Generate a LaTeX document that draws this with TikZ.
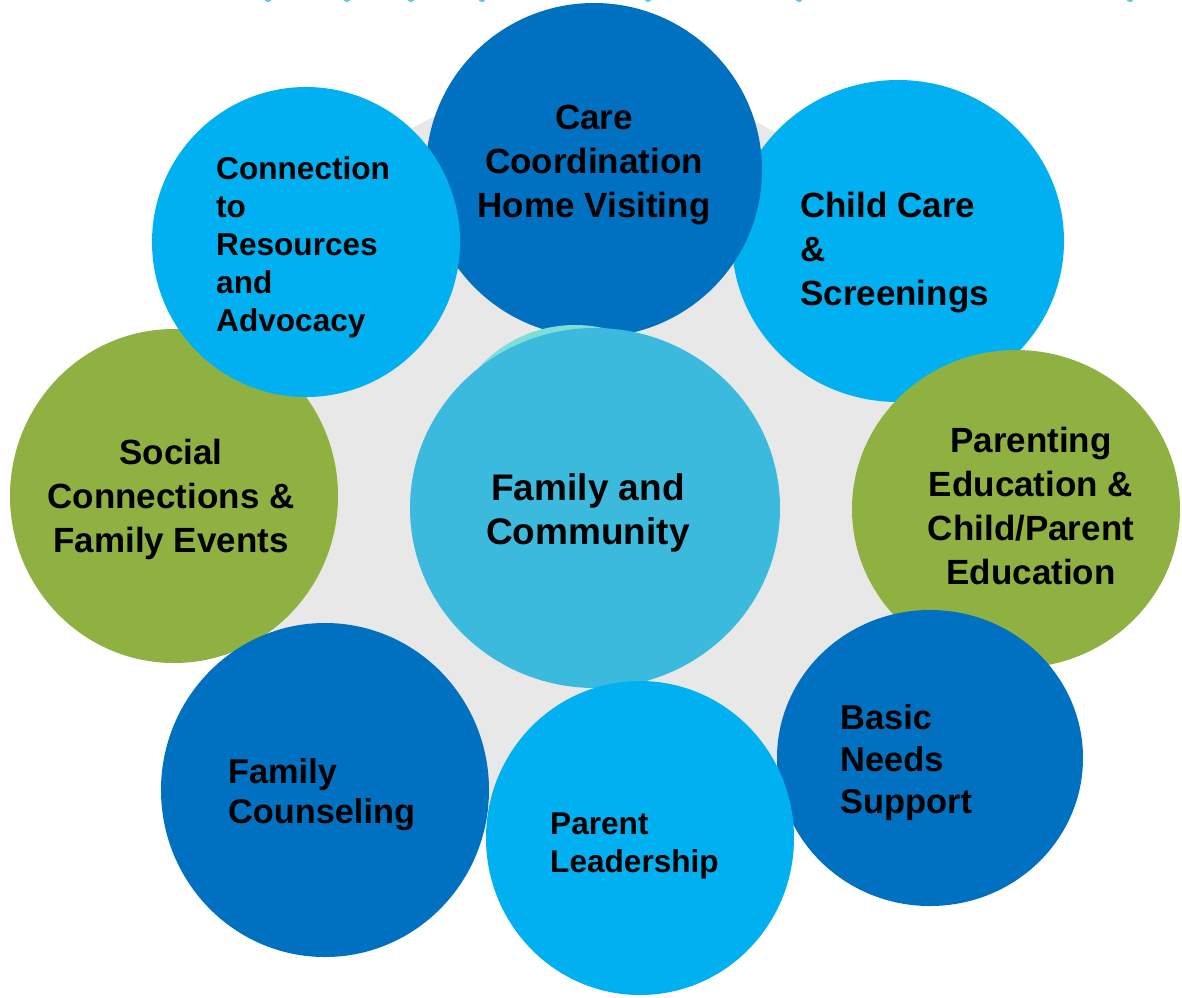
\documentclass[tikz,border=0pt]{standalone}
\usepackage{fontspec}
\setmainfont{Liberation Sans}
\definecolor{darkblue}{HTML}{0070C0}
\definecolor{skyblue}{HTML}{00B0F0}
\definecolor{midblue}{HTML}{3CBADD}
\definecolor{olive}{HTML}{8FB142}
\definecolor{mint}{HTML}{7FDDD8}
\definecolor{bggray}{HTML}{E8E8E8}
\begin{document}
\begin{tikzpicture}[x=1pt, y=-1pt, line join = round, line cap = round]
\tikzset{
  lbl/.style = {inner sep=0pt, text=black, font=\bfseries\fontsize{35}{44}\selectfont},
  lblsmall/.style = {inner sep=0pt, text=black, font=\bfseries\fontsize{31.6}{38}\selectfont}
}
%Khung hình
\def\W{1182}     \def\H{997}
\clip (0,0) rectangle (\W,\H);
%Các vết tròn ở mép trên
\foreach \x in {268,347,411,482,648,799,1130}
  \fill[midblue!80] (\x,-5) ellipse (5 and 7);
%Nền xám
\fill[bggray] (590,448) circle (366);
%Các vòng tròn
\fill[olive] (174,496) ellipse (164 and 167);
\fill[darkblue] (325,790) ellipse (164 and 167);
\fill[skyblue] (898,241) ellipse (166 and 161);
\fill[darkblue] (594,170) ellipse (168 and 167);
\fill[skyblue] (306,242) ellipse (154 and 155);
\fill[olive] (1016,509) ellipse (164 and 159);
\fill[darkblue] (930,758) ellipse (153 and 148);
\fill[mint] (575,455) circle (130);
\fill[midblue] (595,508) ellipse (185 and 180);
\fill[skyblue] (640,838) ellipse (154 and 157);
%Chữ
\node[lbl, align=center] (care) at (594,165) {Care\\Coordination\\Home Visiting};
\node[lblsmall, align=left, anchor=west] (resources) at (216,247) {Connection\\to\\Resources\\and\\Advocacy};
\node[lbl, align=left, anchor=west] (childcare) at (800,253) {Child Care\\\&\\Screenings};
\node[lbl, align=center] (parenting) at (1031,506) {Parenting\\Education \&\\Child/Parent\\Education};
\node[lbl, align=center] (social) at (171,499) {Social\\Connections \&\\Family Events};
\node[lbl, align=center, font=\bfseries\fontsize{37}{44}\selectfont] (family) at (588,513) {Family and\\Community};
\node[lbl, align=left, anchor=west, font=\bfseries\fontsize{34.4}{42}\selectfont] (basic) at (840,763) {Basic\\Needs\\Support};
\node[lbl, align=left, anchor=west, font=\bfseries\fontsize{34.3}{40}\selectfont] (counseling) at (228,795) {Family\\Counseling};
\node[lblsmall, align=left, anchor=west] (leadership) at (550,846) {Parent\\Leadership};
\end{tikzpicture}
\end{document}
